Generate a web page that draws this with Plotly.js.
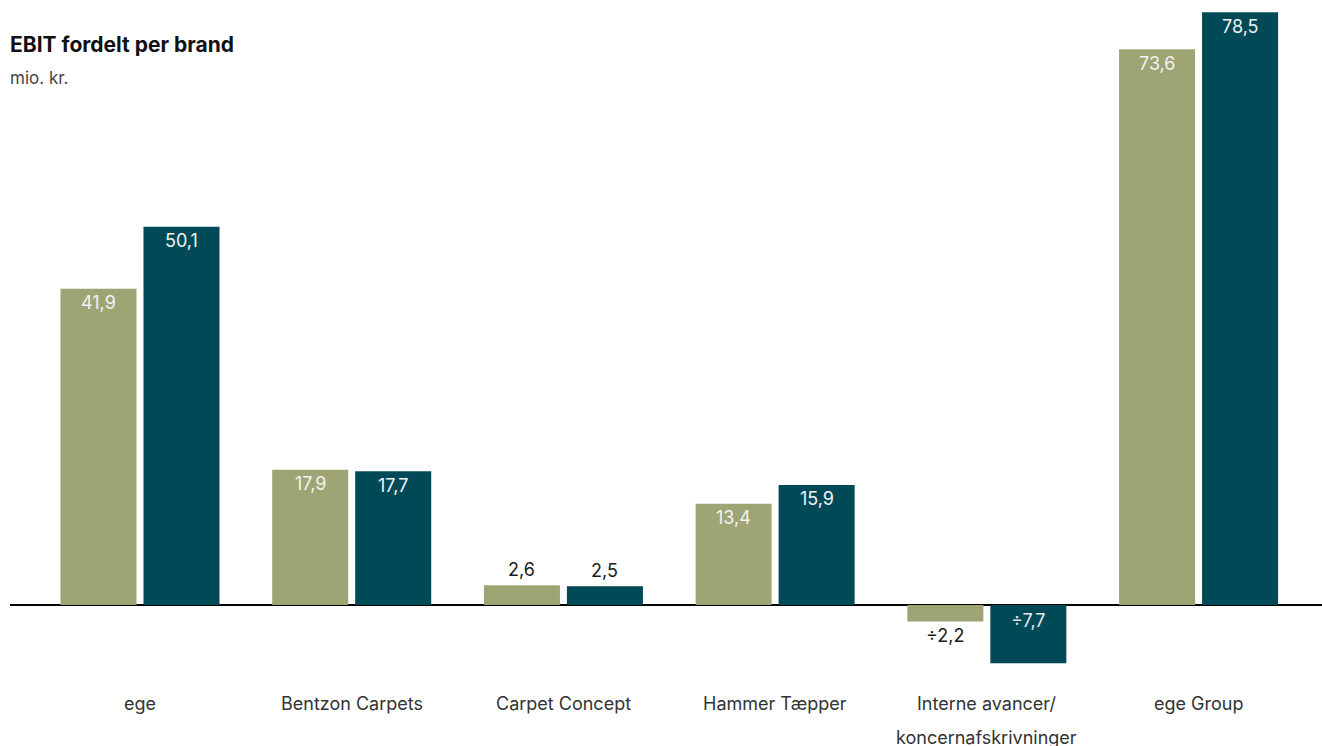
<!DOCTYPE html>
<html>
<head>
<meta charset="utf-8">
<script src="https://cdn.plot.ly/plotly-3.0.1.min.js"></script>
<style>
  html, body { margin: 0; padding: 0; background: #ffffff; }
  #chart { width: 1322px; height: 746px; }
</style>
</head>
<body>
<div id="chart"></div>
<script>
// EBIT per brand, mio. kr.
const categories = ['ege', 'Bentzon Carpets', 'Carpet Concept', 'Hammer Tæpper', 'Interne avancer/\nkoncernafskrivninger', 'ege Group'];
const ebitPrev = [41.9, 17.9, 2.6, 13.4, -2.2, 73.6];
const ebitCurr = [50.1, 17.7, 2.5, 15.9, -7.7, 78.5];

const GREEN = '#9ea474';
const TEAL = '#004a58';
const FONT = 'Inter, "Noto Sans", sans-serif';
const W = 1322, H = 746;

// Danish number format: decimal comma, ÷ as minus sign
function fmt(v) {
  const s = Math.abs(v).toFixed(1).replace('.', ',');
  return v < 0 ? '÷' + s : s;
}

const catKeys = categories.map(c => c.replace('\n', ' '));

const traces = [
  { type: 'bar', x: catKeys, y: ebitPrev, marker: { color: GREEN }, hoverinfo: 'skip' },
  { type: 'bar', x: catKeys, y: ebitCurr, marker: { color: TEAL }, hoverinfo: 'skip' }
];

const annotations = [];
// value labels: inside the top of tall bars, outside short ones
const series = [ebitPrev, ebitCurr];
const offsets = [-41.5, 41.5];
series.forEach((vals, si) => {
  vals.forEach((v, i) => {
    let y = v, yshift, color;
    if (v >= 5) { yshift = -14; color = '#f2f2f2'; }
    else if (v >= 0) { yshift = 16; color = '#1a1a1a'; }
    else if (v > -5) { yshift = -14; color = '#1a1a1a'; }
    else { y = 0; yshift = -15; color = '#e8e8e8'; }
    annotations.push({
      x: catKeys[i], y: y, xref: 'x', yref: 'y',
      xshift: offsets[si], yshift: yshift,
      text: fmt(v), showarrow: false,
      xanchor: 'center', yanchor: 'middle',
      font: { family: FONT, size: 18, color: color }
    });
  });
});

// category labels under the axis
categories.forEach((c, i) => {
  c.split('\n').forEach((line, k) => {
    annotations.push({
      x: catKeys[i], xref: 'x', yref: 'paper',
      y: 1 - (703 + 34 * k) / H,
      text: line, showarrow: false,
      xanchor: 'center', yanchor: 'middle',
      font: { family: FONT, size: 18, color: '#333333' }
    });
  });
});

// heading and unit
annotations.push({
  xref: 'paper', yref: 'paper', x: 0, y: 1 - 44 / H, xshift: -2,
  xanchor: 'left', yanchor: 'middle', showarrow: false,
  text: '<b>EBIT fordelt per brand</b>',
  font: { family: FONT, size: 21, color: '#111111' }
});
annotations.push({
  xref: 'paper', yref: 'paper', x: 0, y: 1 - 78 / H, xshift: -2,
  xanchor: 'left', yanchor: 'middle', showarrow: false,
  text: 'mio. kr.',
  font: { family: FONT, size: 17, color: '#444444' }
});

const pxPerUnit = 7.55, zeroY = 605;
const layout = {
  width: W, height: H,
  margin: { l: 10, r: 0, t: 0, b: 0 },
  paper_bgcolor: '#ffffff', plot_bgcolor: '#ffffff',
  barmode: 'group', bargap: 0.216, bargroupgap: 0.084,
  showlegend: false,
  xaxis: {
    type: 'category', range: [-0.614, 5.583],
    showticklabels: false, showgrid: false, zeroline: false, showline: false, ticks: ''
  },
  yaxis: {
    range: [(zeroY - H) / pxPerUnit, zeroY / pxPerUnit],
    showticklabels: false, showgrid: false, ticks: '',
    zeroline: true, zerolinecolor: '#000000', zerolinewidth: 1.2, showline: false
  },
  annotations: annotations
};

Plotly.newPlot('chart', traces, layout, { staticPlot: true, displayModeBar: false });
</script>
</body>
</html>
